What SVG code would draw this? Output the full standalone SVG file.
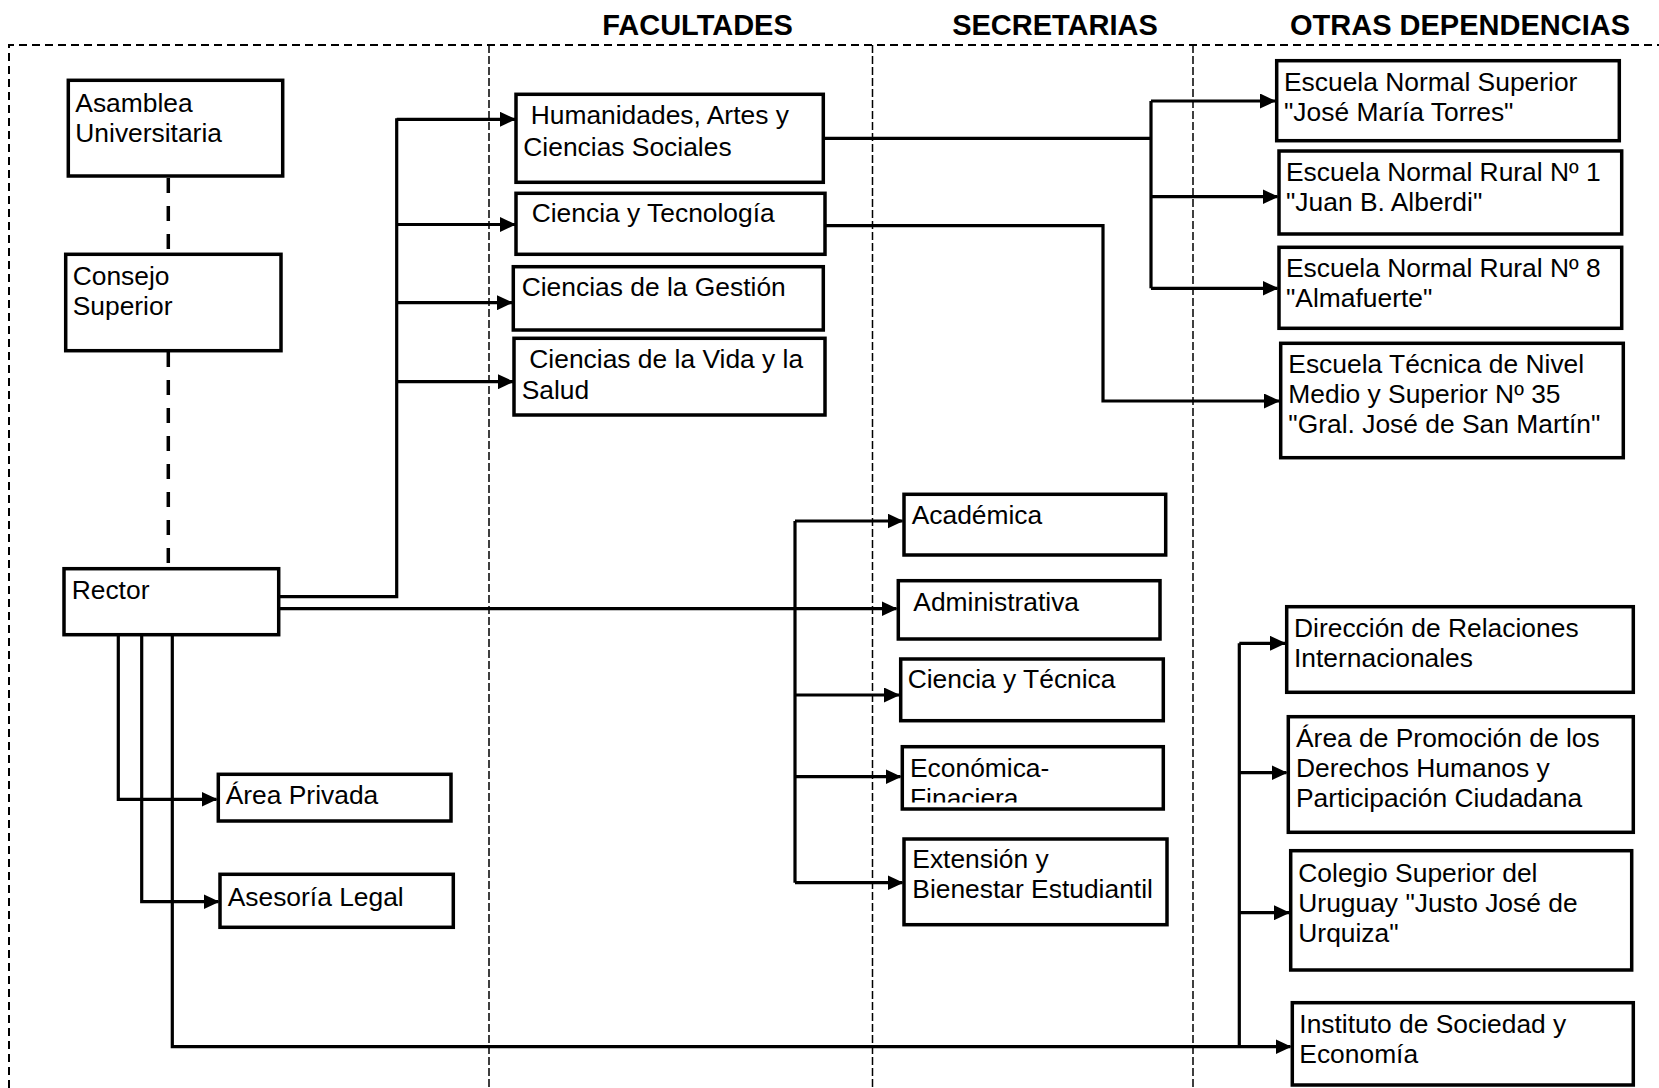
<svg xmlns="http://www.w3.org/2000/svg" width="1659" height="1088" viewBox="0 0 1659 1088">
<style>
.bg{fill:#fff}
.box{fill:#fff;stroke:#000;stroke-width:3.5}
.t{font-family:"Liberation Sans",Arial,sans-serif;font-size:26.4px;fill:#000}
.h{font-family:"Liberation Sans",Arial,sans-serif;font-size:29px;font-weight:bold;fill:#000;text-anchor:middle}
.frame{fill:none;stroke:#000;stroke-width:2;stroke-dasharray:8 5}
.div{fill:none;stroke:#000;stroke-width:1.5;stroke-dasharray:8 3}
.ln{fill:none;stroke:#000;stroke-width:3.2}
.arr{fill:none;stroke:#000;stroke-width:3.2;marker-end:url(#ah)}
.dash{fill:none;stroke:#000;stroke-width:3.5;stroke-dasharray:15 13}
</style>
<defs>
<marker id="ah" markerUnits="userSpaceOnUse" markerWidth="16" markerHeight="15" refX="15" refY="7.5" orient="auto">
<path d="M0,0 L16,7.5 L0,15 Z" fill="#000"/>
</marker>
<clipPath id="clipEco"><rect x="904" y="748" width="258" height="54.5"/></clipPath>
</defs>
<rect class="bg" x="0" y="0" width="1659" height="1088"/>

<g id="frame">
<path class="frame" d="M9,1088 V45 H1659"/>
<path class="div" d="M489,45 V1088"/>
<path class="div" d="M872.5,45 V1088"/>
<path class="div" d="M1193,45 V1088"/>
<text class="h" x="697.5" y="35">FACULTADES</text>
<text class="h" x="1055" y="35">SECRETARIAS</text>
<text class="h" x="1460" y="35">OTRAS DEPENDENCIAS</text>
</g>

<g id="connectors">
<path class="dash" d="M168.3,178 V254"/>
<path class="dash" d="M168.3,352 V568"/>
<path class="ln" d="M279,596.7 H396.7 V118.3"/>
<path class="arr" d="M396.7,119.3 H515"/>
<path class="arr" d="M396.7,224.5 H515"/>
<path class="arr" d="M396.7,302.7 H512"/>
<path class="arr" d="M396.7,381.7 H513"/>
<path class="ln" d="M823,138.3 H1151"/>
<path class="ln" d="M1151,101 V288.3"/>
<path class="arr" d="M1151,101 H1275"/>
<path class="arr" d="M1151,196.7 H1277.5"/>
<path class="arr" d="M1151,288.3 H1277.5"/>
<path class="arr" d="M825,225.7 H1103 V401 H1279"/>
<path class="arr" d="M279,608.7 H896.5"/>
<path class="ln" d="M795,521 V882.7"/>
<path class="arr" d="M795,521 H902.5"/>
<path class="arr" d="M795,695 H899"/>
<path class="arr" d="M795,776.7 H900.5"/>
<path class="arr" d="M795,882.7 H902.5"/>
<path class="arr" d="M118.3,634.7 V799.3 H216.5"/>
<path class="arr" d="M141.7,634.7 V901.7 H218.5"/>
<path class="arr" d="M172.3,634.7 V1046.7 H1290.5"/>
<path class="ln" d="M1239.3,643.3 V1046.7"/>
<path class="arr" d="M1239.3,643.3 H1285"/>
<path class="arr" d="M1239.3,772.7 H1286.5"/>
<path class="arr" d="M1239.3,912.7 H1289"/>
</g>

<g id="asamblea">
<rect class="box" x="68.3" y="80.3" width="214.4" height="95.7"/>
<text class="t" x="75.3" y="111.7">Asamblea</text>
<text class="t" x="75.3" y="141.7">Universitaria</text>
</g>
<g id="consejo">
<rect class="box" x="65.7" y="254.3" width="215.3" height="96.4"/>
<text class="t" x="72.7" y="285">Consejo</text>
<text class="t" x="72.7" y="315">Superior</text>
</g>
<g id="rector">
<rect class="box" x="64" y="568.7" width="214.7" height="66"/>
<text class="t" x="71.7" y="599">Rector</text>
</g>
<g id="area-privada">
<rect class="box" x="218.3" y="774.3" width="232.7" height="46.7"/>
<text class="t" x="225.7" y="804.3">Área Privada</text>
</g>
<g id="asesoria">
<rect class="box" x="220" y="874.3" width="233.3" height="53"/>
<text class="t" x="227.7" y="905.7">Asesoría Legal</text>
</g>

<g id="humanidades">
<rect class="box" x="516" y="94.3" width="307.3" height="88"/>
<text class="t" x="530.7" y="124.3">Humanidades, Artes y</text>
<text class="t" x="523.3" y="155.7">Ciencias Sociales</text>
</g>
<g id="ciencia-tecnologia">
<rect class="box" x="516" y="193.3" width="309" height="61"/>
<text class="t" x="531.7" y="222.3">Ciencia y Tecnología</text>
</g>
<g id="ciencias-gestion">
<rect class="box" x="513.3" y="266.7" width="310" height="63.3"/>
<text class="t" x="521.7" y="296">Ciencias de la Gestión</text>
</g>
<g id="ciencias-vida">
<rect class="box" x="514" y="338.3" width="311" height="76.7"/>
<text class="t" x="529.3" y="368.3">Ciencias de la Vida y la</text>
<text class="t" x="521.7" y="399">Salud</text>
</g>

<g id="academica">
<rect class="box" x="904" y="494.3" width="261.7" height="60.7"/>
<text class="t" x="911.7" y="524.3">Académica</text>
</g>
<g id="administrativa">
<rect class="box" x="898.3" y="580.7" width="261.7" height="58.3"/>
<text class="t" x="913.3" y="610.7">Administrativa</text>
</g>
<g id="ciencia-tecnica">
<rect class="box" x="900.7" y="659" width="262.6" height="61.7"/>
<text class="t" x="907.7" y="688.3">Ciencia y Técnica</text>
</g>
<g id="economica">
<rect class="box" x="902.3" y="746.7" width="261" height="62.3"/>
<g clip-path="url(#clipEco)">
<text class="t" x="910" y="776.7">Económica-</text>
<text class="t" x="910" y="806.7">Finaciera</text>
</g>
</g>
<g id="extension">
<rect class="box" x="904" y="839" width="263" height="85.7"/>
<text class="t" x="912.3" y="868.3">Extensión y</text>
<text class="t" x="912.3" y="898.3">Bienestar Estudiantil</text>
</g>

<g id="ens">
<rect class="box" x="1276.7" y="60.7" width="342.6" height="80"/>
<text class="t" x="1284" y="90.7">Escuela Normal Superior</text>
<text class="t" x="1284" y="121">"José María Torres"</text>
</g>
<g id="enr1">
<rect class="box" x="1279" y="151" width="342.7" height="83"/>
<text class="t" x="1286" y="180.7">Escuela Normal Rural Nº 1</text>
<text class="t" x="1286" y="211">"Juan B. Alberdi"</text>
</g>
<g id="enr8">
<rect class="box" x="1279" y="247.3" width="342.7" height="81"/>
<text class="t" x="1286" y="276.7">Escuela Normal Rural Nº 8</text>
<text class="t" x="1286" y="306.7">"Almafuerte"</text>
</g>
<g id="etnm">
<rect class="box" x="1280.7" y="343.3" width="342.6" height="114.4"/>
<text class="t" x="1288.3" y="373.3">Escuela Técnica de Nivel</text>
<text class="t" x="1288.3" y="403.3">Medio y Superior Nº 35</text>
<text class="t" x="1288.3" y="433.3">"Gral. José de San Martín"</text>
</g>
<g id="dri">
<rect class="box" x="1286.7" y="606.7" width="346.6" height="85.6"/>
<text class="t" x="1294" y="637.3">Dirección de Relaciones</text>
<text class="t" x="1294" y="667.3">Internacionales</text>
</g>
<g id="area-promocion">
<rect class="box" x="1288.3" y="716.7" width="345" height="115.6"/>
<text class="t" x="1296" y="746.7">Área de Promoción de los</text>
<text class="t" x="1296" y="776.7">Derechos Humanos y</text>
<text class="t" x="1296" y="806.7">Participación Ciudadana</text>
</g>
<g id="colegio">
<rect class="box" x="1290.7" y="850.7" width="341" height="119.3"/>
<text class="t" x="1298.3" y="881.7">Colegio Superior del</text>
<text class="t" x="1298.3" y="911.7">Uruguay "Justo José de</text>
<text class="t" x="1298.3" y="941.7">Urquiza"</text>
</g>
<g id="instituto">
<rect class="box" x="1292.3" y="1002.7" width="341" height="82.3"/>
<text class="t" x="1299.3" y="1033.3">Instituto de Sociedad y</text>
<text class="t" x="1299.3" y="1063.3">Economía</text>
</g>
</svg>
